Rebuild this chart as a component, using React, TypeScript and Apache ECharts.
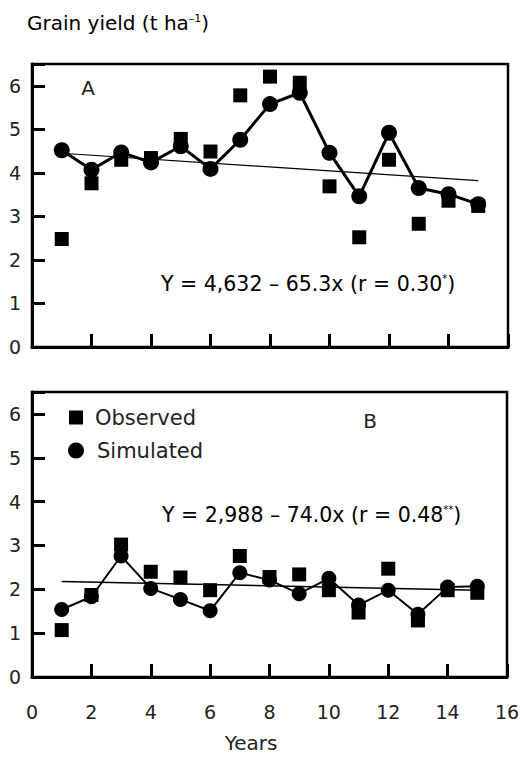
import React, { useEffect, useRef } from "react";
import * as echarts from "echarts";

const years = [1, 2, 3, 4, 5, 6, 7, 8, 9, 10, 11, 12, 13, 14, 15];
const observedA = [2.48, 3.76, 4.3, 4.34, 4.78, 4.49, 5.78, 6.21, 6.07, 3.69, 2.52, 4.3, 2.83, 3.36, 3.24];
const simulatedA = [4.52, 4.07, 4.47, 4.24, 4.61, 4.09, 4.76, 5.58, 5.84, 4.46, 3.46, 4.92, 3.65, 3.51, 3.28];
const trendYearsA = [1, 15];
const trendA = [4.45, 3.82];
const observedB = [1.07, 1.87, 3.02, 2.4, 2.27, 1.98, 2.76, 2.28, 2.34, 1.98, 1.47, 2.47, 1.29, 1.98, 1.92];
const simulatedB = [1.54, 1.83, 2.76, 2.02, 1.77, 1.51, 2.38, 2.21, 1.9, 2.25, 1.64, 1.98, 1.43, 2.05, 2.07];
const trendYearsB = [1, 15];
const trendB = [2.18, 1.98];
const xRange = [0, 16];
const yRange = [0, 6.5];

const FONT = "DejaVu Sans";
const TXT = "#222";

const zip = (xs: number[], ys: number[]) => xs.map((x, i) => [x, ys[i]]);

export default function App() {
  const ref = useRef<HTMLDivElement>(null);
  useEffect(() => {
    document.body.style.margin = "0";
    const chart = echarts.init(ref.current!, null, { renderer: "svg" });
    const mkX = (idx: number, labels: boolean) => ({
      type: "value",
      gridIndex: idx,
      min: xRange[0],
      max: xRange[1],
      interval: 2,
      axisLine: { show: true, lineStyle: { color: "#000", width: 3 } },
      axisTick: { show: true, inside: true, length: 13, lineStyle: { color: "#000", width: 3 } },
      axisLabel: { show: labels, margin: 25, fontSize: 19, color: TXT, fontFamily: FONT },
      splitLine: { show: false },
    });
    const mkY = (idx: number) => ({
      type: "value",
      gridIndex: idx,
      min: yRange[0],
      max: yRange[1],
      interval: 1,
      axisLine: { show: true, lineStyle: { color: "#000", width: 3 } },
      axisTick: { show: true, inside: true, length: 13, lineStyle: { color: "#000", width: 3 } },
      axisLabel: {
        margin: 11,
        fontSize: 19,
        color: TXT,
        fontFamily: FONT,
        formatter: (v: number) => (Number.isInteger(v) ? String(v) : ""),
      },
      splitLine: { show: false },
    });
    const eqRich = {
      a: { fontSize: 20.5, fontFamily: FONT, color: TXT },
      s: { fontSize: 10, fontFamily: FONT, color: TXT, verticalAlign: "top", padding: [0, 0, 8, 0] },
    };
    const black = { color: "#000", opacity: 1 };
    chart.setOption({
      animation: false,
      backgroundColor: "#fff",
      grid: [
        { left: 32, top: 64, width: 476, height: 283, show: true, borderColor: "#000", borderWidth: 2.5 },
        { left: 32, top: 392, width: 475, height: 285, show: true, borderColor: "#000", borderWidth: 2.5 },
      ],
      xAxis: [mkX(0, false), mkX(1, true)],
      yAxis: [mkY(0), mkY(1)],
      legend: [
        {
          data: [{ name: "Observed", icon: "rect", itemStyle: black }],
          left: 69,
          top: 407,
          padding: 0,
          itemWidth: 14,
          itemHeight: 14,
          textStyle: { fontSize: 21, color: TXT, fontFamily: FONT, padding: [0, 0, 0, 7] },
        },
        {
          data: [{ name: "Simulated", icon: "circle", itemStyle: black }],
          left: 68,
          top: 440,
          padding: 0,
          itemWidth: 16,
          itemHeight: 16,
          textStyle: { fontSize: 21, color: TXT, fontFamily: FONT, padding: [0, 0, 0, 8] },
        },
      ],
      series: [
        {
          type: "line",
          name: "trendA",
          xAxisIndex: 0,
          yAxisIndex: 0,
          data: zip(trendYearsA, trendA),
          symbol: "none",
          lineStyle: { color: "#000", width: 1.2 },
          z: 1,
        },
        {
          type: "scatter",
          name: "Observed",
          xAxisIndex: 0,
          yAxisIndex: 0,
          data: zip(years, observedA),
          symbol: "rect",
          symbolSize: 14,
          itemStyle: black,
          z: 3,
        },
        {
          type: "line",
          name: "Simulated",
          xAxisIndex: 0,
          yAxisIndex: 0,
          data: zip(years, simulatedA),
          symbol: "circle",
          symbolSize: 16,
          showAllSymbol: true,
          lineStyle: { color: "#000", width: 3 },
          itemStyle: black,
          z: 2,
        },
        {
          type: "line",
          name: "trendB",
          xAxisIndex: 1,
          yAxisIndex: 1,
          data: zip(trendYearsB, trendB),
          symbol: "none",
          lineStyle: { color: "#000", width: 1.5 },
          z: 1,
        },
        {
          type: "scatter",
          name: "Observed",
          xAxisIndex: 1,
          yAxisIndex: 1,
          data: zip(years, observedB),
          symbol: "rect",
          symbolSize: 14,
          itemStyle: black,
          z: 3,
        },
        {
          type: "line",
          name: "Simulated",
          xAxisIndex: 1,
          yAxisIndex: 1,
          data: zip(years, simulatedB),
          symbol: "circle",
          symbolSize: 15,
          showAllSymbol: true,
          lineStyle: { color: "#000", width: 2 },
          itemStyle: black,
          z: 2,
        },
      ],
      graphic: [
        {
          type: "text",
          left: 27,
          top: 13,
          style: {
            text: "{a|Grain yield (t ha}{s|–1}{a|)}",
            rich: {
              a: { fontSize: 20, fontFamily: FONT, color: TXT },
              s: { fontSize: 11, fontFamily: FONT, color: TXT, verticalAlign: "top", padding: [0, 0, 8, 0] },
            },
          },
        },
        { type: "text", x: 88, y: 88, style: { text: "A", fontSize: 20, fontFamily: FONT, fill: TXT, align: "center", verticalAlign: "middle" } },
        { type: "text", x: 370, y: 421, style: { text: "B", fontSize: 20, fontFamily: FONT, fill: TXT, align: "center", verticalAlign: "middle" } },
        {
          type: "text",
          left: 161,
          top: 273,
          style: { text: "{a|Y = 4,632 – 65.3x (r = 0.30}{s|*}{a|)}", rich: eqRich },
        },
        {
          type: "text",
          left: 162,
          top: 504,
          style: { text: "{a|Y = 2,988 – 74.0x (r = 0.48}{s|**}{a|)}", rich: eqRich },
        },
        { type: "text", x: 251, y: 743, style: { text: "Years", fontSize: 20, fontFamily: FONT, fill: TXT, align: "center", verticalAlign: "middle" } },
      ],
    });
    return () => chart.dispose();
  }, []);
  return <div ref={ref} style={{ width: 524, height: 757 }} />;
}
